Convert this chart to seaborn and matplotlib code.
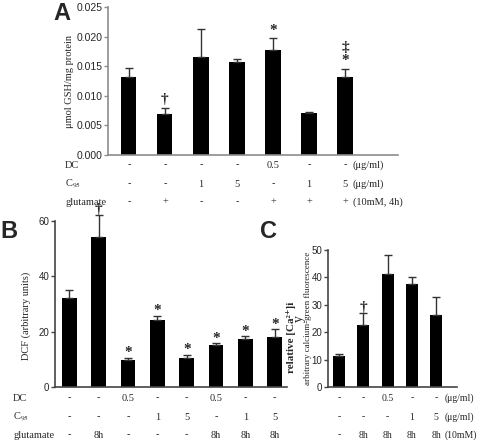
import matplotlib
matplotlib.use("Agg")
import matplotlib.pyplot as plt
import matplotlib.transforms as mtransforms
import numpy as np
import pandas as pd
import seaborn as sns

sns.set_style("ticks")
plt.rcParams['font.family'] = ['Liberation Serif', 'DejaVu Serif']
plt.rcParams['mathtext.fontset'] = 'stix'

# Panel A: GSH content
a_vals = [0.0131, 0.0069, 0.0165, 0.0157, 0.0178, 0.0071, 0.0131]
a_tops = [0.0147, 0.0080, 0.0213, 0.0163, 0.0197, 0.0073, 0.0146]
a_dc = ['-', '-', '-', '-', '0.5', '-', '-']
a_c95 = ['-', '-', '1', '5', '-', '1', '5']
a_glu = ['-', '+', '-', '-', '+', '+', '+']
a_units = ['(\u03bcg/ml)', '(\u03bcg/ml)', '(10mM, 4h)']
a_marks = {1: ['\u2020'], 4: ['*'], 6: ['*', '\u2021']}

# Panel B: DCF fluorescence
b_vals = [32.0, 54.0, 9.7, 24.0, 10.6, 15.0, 17.2, 18.2]
b_tops = [35.0, 62.0, 10.5, 25.7, 11.7, 15.7, 18.3, 20.8]
b_dc = ['-', '-', '0.5', '-', '-', '0.5', '-', '-']
b_c95 = ['-', '-', '-', '1', '5', '-', '1', '5']
b_glu = ['-', '8h', '-', '-', '-', '8h', '8h', '8h']
b_marks = {1: ['\u2020'], 2: ['*'], 3: ['*'], 4: ['*'], 5: ['*'], 6: ['*'], 7: ['*']}

# Panel C: calcium
c_vals = [11.2, 22.5, 41.2, 37.5, 26.2]
c_tops = [12.0, 27.0, 48.0, 40.2, 32.7]
c_dc = ['-', '-', '0.5', '-', '-']
c_c95 = ['-', '-', '-', '1', '5']
c_glu = ['-', '8h', '8h', '8h', '8h']
c_units = ['(\u03bcg/ml)', '(\u03bcg/ml)', '(10mM)']

W, H = 478, 440
fig = plt.figure(figsize=(W / 100, H / 100), dpi=100)
sans = ['Liberation Sans', 'DejaVu Sans']


def px_axes(x0, x1, ytop, ybot):
    return fig.add_axes([x0 / W, 1 - ybot / H, (x1 - x0) / W, (ybot - ytop) / H])


def draw_bars(ax, vals, tops, width, spine_col):
    df = pd.DataFrame({'x': list(range(len(vals))), 'y': vals})
    sns.barplot(data=df, x='x', y='y', color='black', width=width,
                saturation=1, ax=ax, errorbar=None, linewidth=0)
    pos = np.arange(len(vals))
    lower = np.zeros(len(vals))
    upper = np.array(tops) - np.array(vals)
    ax.errorbar(pos, vals, yerr=[lower, upper], fmt='none', ecolor='#333333',
                elinewidth=1, capsize=3, capthick=1, clip_on=False)
    for s in ['top', 'right']:
        ax.spines[s].set_visible(False)
    for s in ['left', 'bottom']:
        ax.spines[s].set_color(spine_col)
        ax.spines[s].set_linewidth(1.2)
    ax.set_xticks([])
    ax.set_xlabel('')
    ax.tick_params(axis='y', length=3, width=1, color=spine_col, pad=1)


def draw_marks(ax, tops, marks, gap, step):
    for i, syms in marks.items():
        y = tops[i] + gap
        for s in syms:
            ax.text(i, y, s, ha='center', va='bottom', fontsize=11,
                    fontweight='bold', clip_on=False)
            y += step


def draw_table(ax, rows, ys, label_x=None, labels=None, units=None, units_x=None, fs=7.5):
    tr = mtransforms.blended_transform_factory(ax.transData, fig.transFigure)
    for r, ypx in zip(rows, ys):
        for i, v in enumerate(r):
            ax.text(i, 1 - ypx / H, v, transform=tr, ha='center', va='center', fontsize=fs)
    if labels is not None:
        for lab, ypx in zip(labels, ys):
            fig.text(label_x / W, 1 - ypx / H, lab, ha='left', va='center', fontsize=fs)
    if units is not None:
        for u, ypx in zip(units, ys):
            ax.text(units_x, 1 - ypx / H, u, transform=tr, ha='left', va='center', fontsize=fs)


row_labels = ['DC', 'C$_{95}$', 'glutamate']

# ---- Panel A
axA = px_axes(108, 398, 7, 155)
draw_bars(axA, a_vals, a_tops, 0.42, '#8c8c8c')
axA.set_ylim(0, 0.025)
a_ticks = np.arange(0, 0.0251, 0.005)
axA.set_yticks(a_ticks)
axA.set_yticklabels(['%.3f' % t for t in a_ticks], fontsize=7.5, family=sans)
axA.set_xlim(-0.58, 7.47)
axA.set_ylabel('\u03bcmol GSH/mg protein', fontsize=7.5, labelpad=2)
draw_marks(axA, a_tops, a_marks, 0.0002, 0.0022)
draw_table(axA, [a_dc, a_c95, a_glu], [165, 184, 202], 65, row_labels,
           a_units, 6.22)
fig.text(53 / W, 1 - 14 / H, 'A', fontsize=17, fontweight='bold',
         family=sans, ha='left', va='center')

# ---- Panel B
axB = px_axes(55, 287, 220.6, 387)
draw_bars(axB, b_vals, b_tops, 0.5, '#444444')
axB.set_ylim(0, 60)
axB.set_yticks([0, 20, 40, 60])
axB.set_yticklabels(['0', '20', '40', '60'], fontsize=7, family=sans)
axB.set_xlim(-0.49, 7.42)
axB.set_ylabel('DCF (arbitrary units)', fontsize=7.5)
axB.yaxis.set_label_coords(-0.105, 0.43)
draw_marks(axB, b_tops, b_marks, -0.5, 5)
draw_table(axB, [b_dc, b_c95, b_glu], [398, 417, 435], 13, row_labels)
fig.text(0 / W, 1 - 232 / H, 'B', fontsize=17, fontweight='bold',
         family=sans, ha='left', va='center')

# ---- Panel C
axC = px_axes(328, 457, 250, 387)
draw_bars(axC, c_vals, c_tops, 0.5, '#444444')
axC.set_ylim(0, 50)
axC.set_yticks([0, 10, 20, 30, 40, 50])
axC.set_yticklabels(['0', '10', '20', '30', '40', '50'], fontsize=7, family=sans)
axC.set_xlim(-0.45, 4.85)
axC.text(1, 29, '\u2020', ha='center', va='center', fontsize=11, fontweight='bold')
axC.text(-37 / 129, 0.36, 'relative [Ca\u00b2\u207a]i', transform=axC.transAxes, rotation=90,
         ha='center', va='center', fontsize=8, fontweight='bold')
axC.text(-20.5 / 129, 0.50, 'arbitrary calcium-green fluorescence', transform=axC.transAxes,
         rotation=90, ha='center', va='center', fontsize=6.5)
draw_table(axC, [c_dc, c_c95, c_glu], [398, 417, 435], units=c_units, units_x=4.33, fs=7)
fig.text(260 / W, 1 - 232 / H, 'C', fontsize=17, fontweight='bold',
         family=sans, ha='left', va='center')

fig.savefig('out.png', dpi=100)
